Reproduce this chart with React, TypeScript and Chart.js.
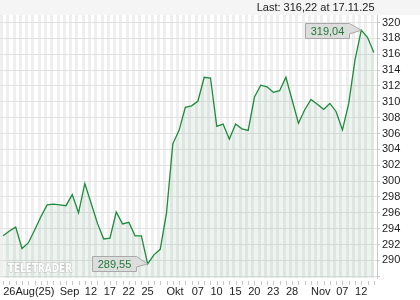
import React, { useEffect, useRef } from 'react';
import { Chart, registerables } from 'chart.js';

Chart.register(...registerables);

// ---- data ----
const dates = [
  '2025-08-26', '2025-08-27', '2025-08-28', '2025-08-29',
  '2025-09-01', '2025-09-02', '2025-09-03', '2025-09-04', '2025-09-05',
  '2025-09-08', '2025-09-09', '2025-09-10', '2025-09-11', '2025-09-12',
  '2025-09-15', '2025-09-16', '2025-09-17', '2025-09-18', '2025-09-19',
  '2025-09-22', '2025-09-23', '2025-09-24', '2025-09-25', '2025-09-26',
  '2025-09-29', '2025-09-30', '2025-10-01', '2025-10-02', '2025-10-03',
  '2025-10-06', '2025-10-07', '2025-10-08', '2025-10-09', '2025-10-10',
  '2025-10-13', '2025-10-14', '2025-10-15', '2025-10-16', '2025-10-17',
  '2025-10-20', '2025-10-21', '2025-10-22', '2025-10-23', '2025-10-24',
  '2025-10-27', '2025-10-28', '2025-10-29', '2025-10-30', '2025-10-31',
  '2025-11-03', '2025-11-04', '2025-11-05', '2025-11-06', '2025-11-07',
  '2025-11-10', '2025-11-11', '2025-11-12', '2025-11-13', '2025-11-14',
  '2025-11-17',
];

const prices = [
  293.1, 293.7, 294.2, 291.5, 292.2, 293.8, 295.5, 297.0, 297.1, 297.0,
  296.9, 298.3, 296.0, 299.7, 297.2, 294.7, 292.7, 292.8, 296.1, 294.6,
  294.8, 293.1, 293.1, 289.55, 290.7, 291.4, 296.0, 304.7, 306.4, 309.3,
  309.5, 310.1, 313.1, 313.0, 306.9, 307.2, 305.3, 307.2, 306.6, 306.4,
  310.6, 312.1, 311.9, 311.2, 311.4, 313.1, 310.2, 307.3, 309.0, 310.3,
  309.7, 309.05, 309.8, 308.75, 306.45, 309.8, 315.3, 319.04, 318.1, 316.22,
];

const axisLabelDates = [
  '2025-08-26', '2025-09-08', '2025-09-12', '2025-09-17', '2025-09-22', '2025-09-25',
  '2025-10-01', '2025-10-07', '2025-10-10', '2025-10-15', '2025-10-20', '2025-10-23',
  '2025-10-28', '2025-11-03', '2025-11-07', '2025-11-12',
];
const axisLabelTexts = [
  '26Aug(25)', 'Sep', '12', '17', '22', '25',
  'Okt', '07', '10', '15', '20', '23',
  '28', 'Nov', '07', '12',
];

const yGridValues = [288, 290, 292, 294, 296, 298, 300, 302, 304, 306, 308, 310, 312, 314, 316, 318, 320];
const yLabelValues = [290, 292, 294, 296, 298, 300, 302, 304, 306, 308, 310, 312, 314, 316, 318, 320];

const lastText = 'Last: 316,22 at 17.11.25';
const watermark = 'TELETRADER';

const FONT = '"Liberation Sans", Arial, sans-serif';

function fmt(v: number): string {
  return v.toFixed(2).replace('.', ',');
}

const decorPlugin = {
  id: 'decor',
  beforeDraw(chart: any) {
    const { ctx, chartArea: a, scales } = chart;
    const x = scales.x;
    ctx.save();
    ctx.fillStyle = '#f5f5f5';
    ctx.fillRect(0, 0, chart.width, a.top);
    const step = (a.right - a.left) / dates.length;
    ctx.fillStyle = '#efefef';
    for (let i = 0; i < dates.length; i++) {
      const px = x.getPixelForValue(i);
      ctx.fillRect(Math.round(px - step / 2), a.top, Math.round(step / 2), a.bottom - a.top);
    }
    ctx.restore();
  },
  afterDatasetsDraw(chart: any) {
    const { ctx } = chart;
    ctx.save();

    // watermark
    ctx.font = 'bold 13px "DejaVu Sans", sans-serif';
    const tw = ctx.measureText(watermark).width;
    ctx.translate(8, 272);
    ctx.scale(64 / tw, 1);
    ctx.fillStyle = '#ffffff';
    ctx.strokeStyle = '#bdbdbd';
    ctx.lineWidth = 1.2;
    ctx.textBaseline = 'alphabetic';
    ctx.textAlign = 'left';
    ctx.strokeText(watermark, 0, 0);
    ctx.fillText(watermark, 0, 0);
    ctx.setTransform(1, 0, 0, 1, 0, 0);

    // min / max tags
    const meta = chart.getDatasetMeta(0);
    let iMax = 0, iMin = 0;
    prices.forEach((v, i) => {
      if (v > prices[iMax]) iMax = i;
      if (v < prices[iMin]) iMin = i;
    });
    const tag = (i: number) => {
      const pt = meta.data[i];
      const px = pt.x, py = pt.y;
      const text = fmt(prices[i]);
      ctx.font = '11px ' + FONT;
      const w = Math.round(ctx.measureText(text).width + 10);
      const h = 15;
      const right = Math.round(px - 12) + 0.5;
      const left = right - w;
      const top = Math.round(py - h / 2) + 0.5;
      ctx.beginPath();
      ctx.moveTo(left, top);
      ctx.lineTo(right, top);
      ctx.lineTo(px, py);
      ctx.lineTo(right, top + h * 0.7);
      ctx.lineTo(right, top + h);
      ctx.lineTo(left, top + h);
      ctx.closePath();
      ctx.fillStyle = '#dddddd';
      ctx.fill();
      ctx.strokeStyle = '#a9a9a9';
      ctx.lineWidth = 1;
      ctx.stroke();
      ctx.fillStyle = '#1f7a36';
      ctx.textAlign = 'center';
      ctx.textBaseline = 'middle';
      ctx.fillText(text, (left + right) / 2, top + h / 2 + 0.5);
    };
    tag(iMax);
    tag(iMin);
    ctx.restore();
  },
  afterDraw(chart: any) {
    const { ctx, chartArea: a, scales } = chart;
    const x = scales.x;
    ctx.save();
    // x tick marks
    ctx.strokeStyle = '#c8c8c8';
    ctx.lineWidth = 1;
    ctx.beginPath();
    for (let i = 0; i < dates.length; i++) {
      const px = Math.round(x.getPixelForValue(i)) + 0.5;
      ctx.moveTo(px, a.bottom + 3);
      ctx.lineTo(px, a.bottom + 7);
    }
    ctx.stroke();
    // x labels
    ctx.font = '11px ' + FONT;
    ctx.fillStyle = '#222222';
    ctx.textAlign = 'left';
    ctx.textBaseline = 'middle';
    axisLabelDates.forEach((d, k) => {
      const idx = dates.indexOf(d);
      const px = x.getPixelForValue(idx);
      ctx.fillText(axisLabelTexts[k], px, a.bottom + 13.5);
    });
    // last text
    ctx.textAlign = 'right';
    ctx.fillText(lastText, 374.5, 7.5);
    ctx.restore();
  },
};

export default function App() {
  const ref = useRef<HTMLCanvasElement | null>(null);
  useEffect(() => {
    if (!ref.current) return;
    const chart = new Chart(ref.current, {
      type: 'line',
      data: {
        labels: dates,
        datasets: [
          {
            data: prices,
            borderColor: '#1c8b3b',
            borderWidth: 1.3,
            backgroundColor: 'rgba(40,130,60,0.08)',
            fill: 'start',
            pointRadius: 0,
            tension: 0,
          },
        ],
      },
      options: {
        animation: false,
        responsive: false,
        devicePixelRatio: 1,
        layout: { padding: { top: 15, bottom: 22, left: 0, right: 0 } },
        plugins: {
          legend: { display: false },
          tooltip: { enabled: false },
          title: { display: false },
        },
        scales: {
          x: {
            type: 'category',
            offset: true,
            display: false,
          },
          y: {
            position: 'right',
            min: 287.78,
            max: 320.95,
            afterBuildTicks: (s: any) => {
              s.ticks = yGridValues.map((v) => ({ value: v }));
            },
            afterFit: (s: any) => {
              s.width = 43;
            },
            grid: {
              color: '#e2e2e2',
              lineWidth: 1,
              drawTicks: true,
              tickLength: 3,
              tickColor: '#c8c8c8',
            },
            border: { display: true, color: '#c8c8c8' },
            ticks: {
              padding: 2,
              color: '#222222',
              font: { family: FONT, size: 11 },
              callback: (v: any) => (yLabelValues.includes(Number(v)) ? String(v) : ''),
            },
          },
        },
      },
      plugins: [decorPlugin],
    });
    return () => chart.destroy();
  }, []);
  return (
    <div style={{ position: 'absolute', left: 0, top: 0, width: 420, height: 300 }}>
      <canvas ref={ref} width={420} height={300} style={{ display: 'block' }} />
    </div>
  );
}
